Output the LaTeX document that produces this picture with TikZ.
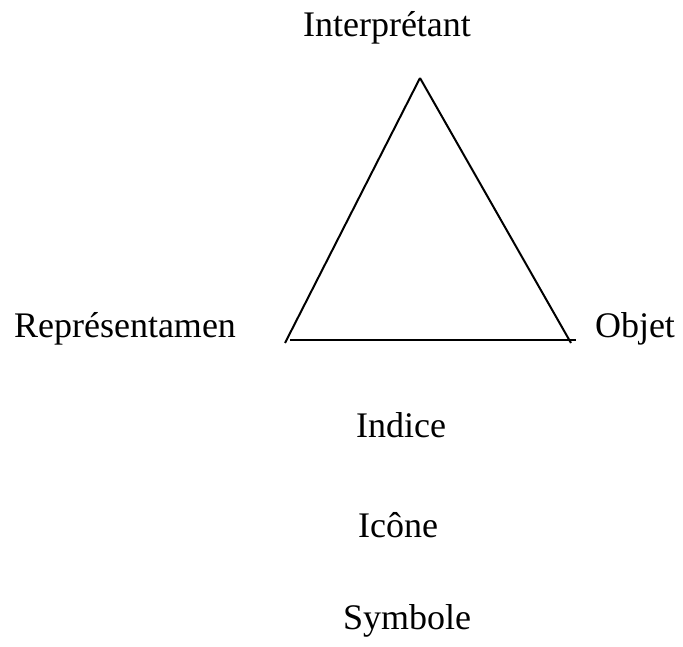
\documentclass[tikz,border=0pt]{standalone}
\usepackage{fontspec}
\setmainfont{Liberation Serif}
\newcommand{\lbl}{\fontsize{36}{43}\selectfont}

\begin{document}
\begin{tikzpicture}[x=1pt,y=-1pt,
   word/.style={anchor=base,inner sep=0pt,font=\lbl},
   side/.style={line width=2pt}]
   \useasboundingbox (0,0) rectangle (683,647);
   \coordinate (apex) at (420,78);
   \coordinate (bl) at (285,343);
   \coordinate (br) at (571,343);
   \coordinate (bl2) at (290,340);
   \coordinate (br2) at (576,340);
   \node[word] (interp) at (387,37) {Interprétant};
   \node[word] (repr) at (125,337) {Représentamen};
   \node[word] (objet) at (635,337) {Objet};
   \node[word] (indice) at (401,437) {Indice};
   \node[word] (icone) at (398,537) {Icône};
   \node[word] (symbole) at (407,629) {Symbole};
   \draw[side] (apex) -- (bl);
   \draw[side] (apex) -- (br);
   \draw[side] (bl2) -- (br2);
\end{tikzpicture}
\end{document}
